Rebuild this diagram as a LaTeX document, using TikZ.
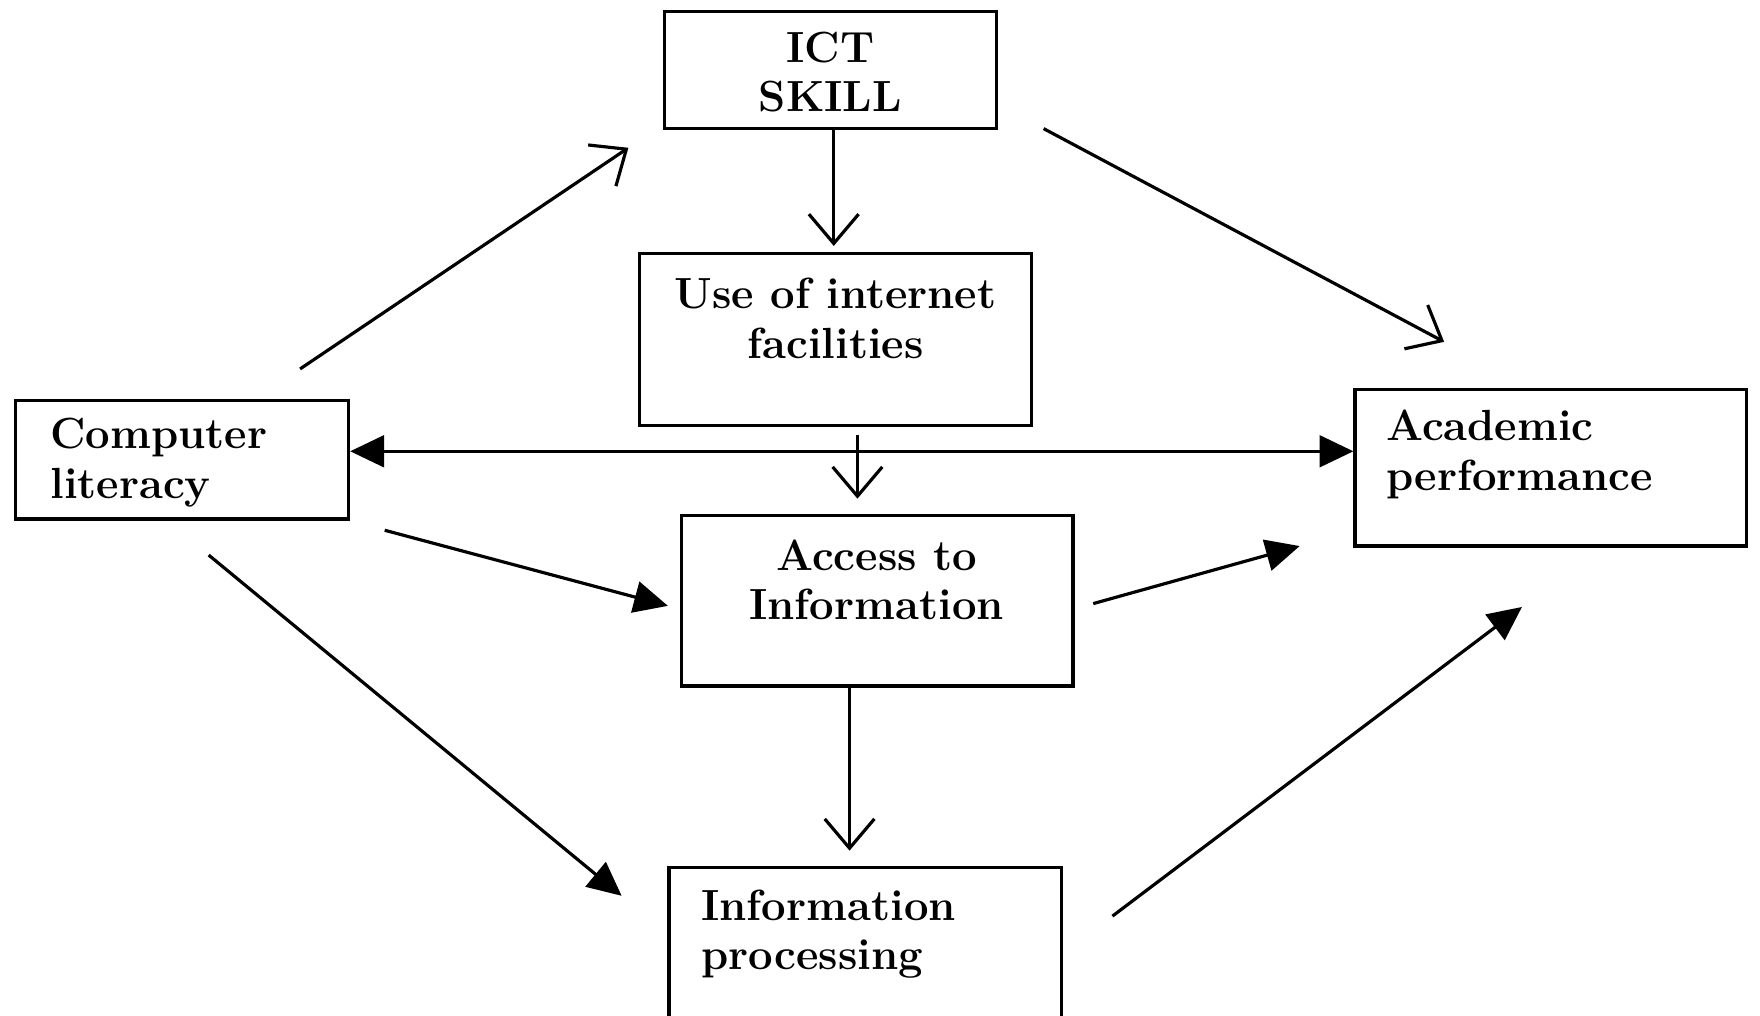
\documentclass[tikz,border=0pt]{standalone}
\usetikzlibrary{arrows.meta}
\begin{document}
\begin{tikzpicture}
		\tikzstyle{box}=[draw,line width=0.8pt,inner sep=0pt];
		\tikzstyle{lbl}=[font=\fontsize{11}{12.5}\selectfont\bfseries,inner sep=0pt];
		\tikzstyle{open}=[line width=0.8pt,-{Straight Barb[length=2.6mm,width=4.4mm]}];
		\tikzstyle{solid}=[line width=0.8pt,-{Triangle[length=3mm,width=2.8mm]}];

		\useasboundingbox (0,0) rectangle (15.6,9.0);

		% boxes
		\node [box] (ict) at (7.36,8.38) [minimum width=2.94cm,minimum height=1.04cm] {};
		\node [lbl,align=center] (ictt) at (7.36,8.36) {ICT\\SKILL};

		\node [box] (use) at (7.405,5.99) [minimum width=3.47cm,minimum height=1.52cm] {};
		\node [lbl,align=center] (uset) at (7.405,6.18) {Use of internet\\facilities};

		\node [box] (cl) at (1.615,4.925) [minimum width=2.95cm,minimum height=1.05cm] {};
		\node [lbl,align=left,anchor=west] (clt) at (0.44,4.90) {Computer\\literacy};

		\node [box] (acad) at (13.745,4.855) [minimum width=3.47cm,minimum height=1.39cm] {};
		\node [lbl,align=left,anchor=west] (acadt) at (12.28,4.97) {Academic\\performance};

		\node [box] (acc) at (7.775,3.675) [minimum width=3.47cm,minimum height=1.51cm] {};
		\node [lbl,align=center] (acct) at (7.77,3.86) {Access to\\Information};

		\node [box] (ip) at (7.67,0.51) [minimum width=3.48cm,minimum height=1.6cm] {};
		\node [lbl,align=left,anchor=west] (ipt) at (6.21,0.72) {Information\\processing};

		% free ends
		\coordinate (a1) at (2.66,5.73);  \coordinate (a2) at (5.57,7.69);
		\coordinate (b1) at (9.25,7.86);  \coordinate (b2) at (12.80,5.97);
		\coordinate (c1) at (3.41,4.30);  \coordinate (c2) at (5.92,3.63);
		\coordinate (d1) at (9.69,3.65);  \coordinate (d2) at (11.52,4.16);
		\coordinate (e1) at (1.85,4.08);  \coordinate (e2) at (5.51,1.06);
		\coordinate (f1) at (9.86,0.88);  \coordinate (f2) at (13.49,3.62);

		% connectors
		\draw [open] (a1) -- (a2);
		\draw [open] (ict.south -| 7.39,0) -- (7.39,6.82);
		\draw [open] (b1) -- (b2);
		\draw [open] (7.60,5.14) -- (7.60,4.58);
		\draw [open] (acc.south -| 7.53,0) -- (7.53,1.46);
		\draw [solid,{Triangle[length=3mm,width=2.8mm]}-{Triangle[length=3mm,width=2.8mm]}] (cl.east |- 0,5.0) -- (acad.west |- 0,5.0);
		\draw [solid] (c1) -- (c2);
		\draw [solid] (d1) -- (d2);
		\draw [solid] (e1) -- (e2);
		\draw [solid] (f1) -- (f2);
	\end{tikzpicture}
\end{document}
